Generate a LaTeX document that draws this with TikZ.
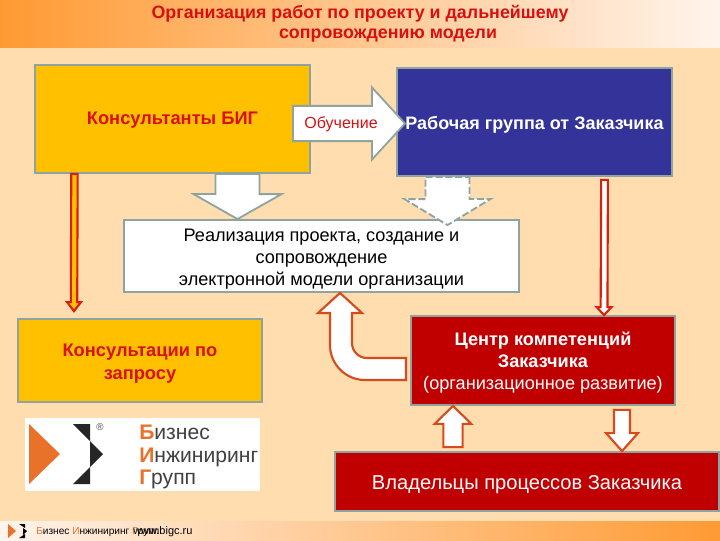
\documentclass[tikz,border=0pt]{standalone}
\usepackage{fontspec}
\setmainfont{Liberation Sans}
\usetikzlibrary{calc}
\definecolor{pagecol}{HTML}{FFDDAE}
\definecolor{bandcol}{HTML}{FF9A33}
\definecolor{bandmid}{HTML}{FFC9A8}
\definecolor{bandend}{HTML}{FFF4EC}
\definecolor{edgecol}{HTML}{8FA3A0}
\definecolor{titlecol}{HTML}{D81010}
\definecolor{goldcol}{HTML}{FFC000}
\definecolor{navycol}{HTML}{333399}
\definecolor{darkred}{HTML}{C00000}
\definecolor{thincol}{HTML}{D8200F}
\definecolor{rustcol}{HTML}{D84A1B}
\definecolor{logocol}{HTML}{E8722A}
\begin{document}
\begin{tikzpicture}[x=0.025cm, y=-0.025cm,
  titletext/.style={text=titlecol, font=\fontsize{12.7}{14}\selectfont\bfseries},
  plainbox/.style={draw=edgecol, line width=1.3pt, inner sep=0pt, align=center},
  boldtext/.style={font=\fontsize{13}{16.2}\selectfont\bfseries},
  bodytext/.style={font=\fontsize{12.9}{15.7}\selectfont},
  blockarrow/.style n args={3}{to path={
    ($(\tikztotarget)!#3!(\tikztostart)$) coordinate (hb)
    ($(\tikztostart)!#1!90:(\tikztotarget)$) -- ($(hb)!#1!90:(\tikztotarget)$)
    -- ($(hb)!#2!90:(\tikztotarget)$) -- (\tikztotarget)
    -- ($(hb)!#2!-90:(\tikztotarget)$) -- ($(hb)!#1!-90:(\tikztotarget)$)
    -- ($(\tikztostart)!#1!-90:(\tikztotarget)$) -- cycle}},
  grayarrow/.style={draw=edgecol, line width=1.3pt, fill=white},
  rustarrow/.style={draw=rustcol, line width=1.5pt, fill=white},
  thinarrow/.style={draw=thincol, line width=1.5pt}]
\useasboundingbox (0,0) rectangle (720,540);
% page and bands
\fill[pagecol] (0,0) rectangle (720,540);
\shade[left color=bandcol, middle color=bandmid, right color=bandend] (0,0) rectangle (720,47);
\shade[left color=bandend, middle color=bandmid, right color=bandcol] (0,521) rectangle (720,540);
\node[titletext] (title1) at (360,14) {Организация работ по проекту и дальнейшему};
\node[titletext] (title2) at (388,36) {сопровождению модели};
% upper boxes
\node[plainbox, fill=goldcol, minimum width=68.75mm, minimum height=27mm,
  text=titlecol, boldtext] (consbig) at (172.5,119) {\rule{0pt}{11pt}Консультанты БИГ};
\node[plainbox, fill=navycol, minimum width=68.75mm, minimum height=27mm,
  text=white, boldtext, font=\fontsize{12.8}{16}\selectfont\bfseries] (workgrp) at (534.5,122) {\rule{0pt}{13pt}Рабочая группа от Заказчика};
\node[plainbox, fill=white, minimum width=98.75mm, minimum height=18mm,
  bodytext] (impl) at (321.5,256) {\rule{0pt}{13pt}Реализация проекта, создание и\\ сопровождение\\ электронной модели организации};
% lower boxes
\node[plainbox, fill=goldcol, minimum width=61mm, minimum height=20.75mm,
  text=titlecol, boldtext] (consreq) at (140,360.5) {\rule{0pt}{13pt}Консультации по\\ запросу};
\node[plainbox, fill=darkred, minimum width=66mm, minimum height=22.25mm,
  text=white, bodytext] (center) at (543,360.5) {\rule{0pt}{13pt}\textbf{Центр компетенций}\\ \textbf{Заказчика}\\ (организационное развитие)};
\node[plainbox, fill=darkred, minimum width=96mm, minimum height=14.75mm,
  text=white, bodytext, font=\fontsize{14.3}{16}\selectfont] (owners) at (527,481.5) {\rule{0pt}{14pt}Владельцы процессов Заказчика};
% anchors for the block arrows
\coordinate (cs) at ([xshift=16.25mm]consbig.south);
\coordinate (ct) at ([xshift=-21mm]impl.north);
\coordinate (ws) at ([xshift=-21.75mm]workgrp.south);
\coordinate (wt) at ([xshift=31.5mm,yshift=-1.5mm]impl.north);
\coordinate (ls) at ([xshift=-24.5mm]consbig.south);
\coordinate (lt) at ([xshift=-16.5mm,yshift=1.75mm]consreq.north);
\coordinate (rs) at ([xshift=17.5mm,yshift=-0.75mm]workgrp.south);
\coordinate (rt) at ([xshift=15.25mm]center.north);
\coordinate (ts) at (293,123.5);
\coordinate (tt) at (405,123.5);
\coordinate (us) at ([xshift=-18.5mm,yshift=1mm]owners.north);
\coordinate (ut) at ([xshift=-22.5mm]center.south);
\coordinate (ds) at ([xshift=19.75mm,yshift=-1mm]center.south);
\coordinate (dt) at ([xshift=23.75mm]owners.north);
% arrows
\draw[grayarrow, blockarrow={5.5mm}{11mm}{6.25mm}] (cs) to (ct);
\draw[grayarrow, dash pattern=on 5pt off 2pt, blockarrow={5.5mm}{10.75mm}{6.5mm}] (ws) to (wt);
\draw[grayarrow, blockarrow={4.4mm}{9mm}{8.25mm}] (ts) to (tt);
\node[text=titlecol, font=\fontsize{11.4}{12}\selectfont] (train) at (341,124) {Обучение};
\draw[thinarrow, fill=goldcol, blockarrow={0.8mm}{1.75mm}{2.25mm}] (ls) to (lt);
\draw[thinarrow, fill=white, blockarrow={0.85mm}{1.85mm}{2mm}] (rs) to (rt);
\draw[rustarrow, blockarrow={2.4mm}{4.6mm}{4.5mm}] (us) to (ut);
\draw[rustarrow, blockarrow={2mm}{4mm}{4.5mm}] (ds) to (dt);
% curved return arrow
\draw[rustarrow] (406,358) -- (372,358) [rounded corners=3.75mm] -- (352,358) [sharp corners] -- (352,313) -- (362,313)
  -- (impl.south -| 340,0) -- (318,313) -- (330,313) [rounded corners=8.75mm] -- (330,380) [sharp corners] -- (406,380) -- cycle;
% logo
\fill[white] (25,418) rectangle (260,491);
\fill[logocol] (29,424) -- (60,454) -- (29,484) -- cycle;
\fill[black!85] (73,424) -- (90,424) -- (90,441) -- cycle;
\fill[black!85] (90,441) -- (103,454) -- (90,467) -- cycle;
\fill[black!85] (90,467) -- (90,484) -- (73,484) -- cycle;
\node[font=\fontsize{7}{8}\selectfont, text=black!70] (regmark) at (100,427) {®};
\node[anchor=west, align=left, inner sep=0pt, text=black!75,
  font=\fontsize{15}{15.8}\selectfont] (logotext) at (139,457)
  {\textcolor{logocol}{\textbf{Б}}изнес\\ \textcolor{logocol}{\textbf{И}}нжиниринг\\ \textcolor{logocol}{\textbf{Г}}рупп};
% footer
\fill[logocol] (8,524) -- (16,531) -- (8,538) -- cycle;
\fill[black] (19,524) -- (25,524) -- (25,528) -- cycle;
\fill[black] (23,528) -- (27,531) -- (23,535) -- cycle;
\fill[black] (25,534) -- (25,538) -- (19,538) -- cycle;
\node[anchor=west, inner sep=0pt, font=\fontsize{7.2}{8}\selectfont] (footname) at (36,532)
  {\textcolor{logocol}{Б}изнес \textcolor{logocol}{И}нжиниринг \textcolor{logocol}{Г}рупп};
\node[anchor=west, inner sep=0pt, font=\fontsize{7.8}{10}\selectfont] (footurl) at (133,532) {www.bigc.ru};
\end{tikzpicture}
\end{document}
